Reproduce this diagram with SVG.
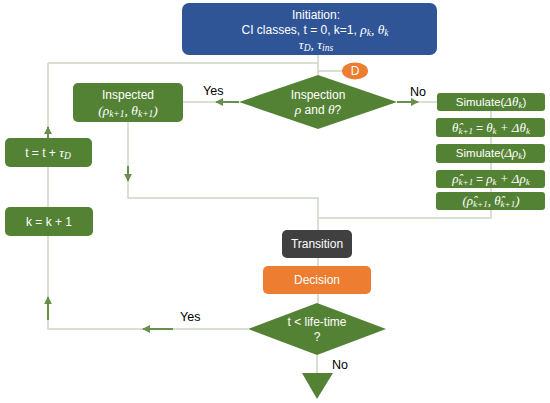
<svg xmlns="http://www.w3.org/2000/svg" width="550" height="403" viewBox="0 0 550 403">
<style>
.g{fill:#548235}
.t{font-family:"Liberation Sans",Arial,sans-serif;font-size:12px;fill:#fff;text-anchor:middle}
.l{font-family:"Liberation Sans",Arial,sans-serif;font-size:12.5px;fill:#000}
.m{font-family:"Liberation Serif","Times New Roman",serif;font-style:italic;font-size:13.5px}
.s{font-size:9.5px}
.sm{font-size:11.5px}
.sm .m{font-size:13px}
.sm .s{font-size:9px}
.c{stroke:#cdd6c2;stroke-width:1.5;fill:none}
.a{stroke:#6a8f4c;stroke-width:2;fill:none}
</style>
<defs>
<marker id="ah" viewBox="0 0 10 10" refX="9" refY="5" markerWidth="4" markerHeight="4" orient="auto"><path d="M0,0L10,5L0,10z" fill="#6a8f4c"/></marker>
</defs>
<g id="connectors">
<path class="c" d="M318,55V75M48,63H318M318,71H342"/>
<path class="c" d="M239,102H183M397,102H437"/>
<path class="c" d="M491,111V218H318"/>
<path class="c" d="M128,122V198H318V230M318,258V266M318,294V303"/>
<path class="c" d="M248,329H48V63"/>
<path class="c" d="M317,355V373"/>
<path class="a" d="M239,102H216" marker-end="url(#ah)"/>
<path class="a" d="M397,102H418" marker-end="url(#ah)"/>
<path class="a" d="M128,166V181" marker-end="url(#ah)"/>
<path class="a" d="M173,329H143" marker-end="url(#ah)"/>
<path class="a" d="M48,320V297" marker-end="url(#ah)"/>
<path class="a" d="M48,138V127" marker-end="url(#ah)"/>
<text class="l" x="203" y="95">Yes</text>
<text class="l" x="410" y="96">No</text>
<text class="l" x="180" y="321">Yes</text>
<text class="l" x="332" y="369">No</text>
</g>
<g id="init">
<rect x="182" y="3" width="255" height="52" rx="7" fill="#2f5597"/>
<text class="t" x="316" y="19">Initiation:</text>
<text class="t" x="315" y="34">CI classes, t = 0, k=1,   <tspan class="m">ρ<tspan class="s" dy="2">k</tspan><tspan dy="-2">, θ</tspan><tspan class="s" dy="2">k</tspan></tspan></text>
<text class="t" x="316" y="49"><tspan class="m">τ<tspan class="s" dy="2">D</tspan><tspan dy="-2">, τ</tspan><tspan class="s" dy="2">ins</tspan></tspan></text>
</g>
<g id="D">
<ellipse cx="355" cy="71" rx="13" ry="8.5" fill="#ed7d31"/>
<text class="t" x="355" y="75">D</text>
</g>
<g id="inspection">
<polygon class="g" points="239,102 318,75 397,102 318,129"/>
<text class="t" x="318" y="99">Inspection</text>
<text class="t" x="318" y="114"><tspan class="m">ρ</tspan> and <tspan class="m">θ</tspan>?</text>
</g>
<g id="inspected">
<rect class="g" x="73" y="83" width="110" height="39" rx="5"/>
<text class="t" x="128" y="99">Inspected</text>
<text class="t m" x="128" y="115">(ρ<tspan class="s" dy="2">k+1</tspan><tspan dy="-2">, θ</tspan><tspan class="s" dy="2">k+1</tspan><tspan dy="-2">)</tspan></text>
</g>
<g id="tupdate">
<rect class="g" x="5" y="138" width="87" height="29" rx="5"/>
<text class="t" x="48" y="157">t = t + <tspan class="m">τ<tspan class="s" dy="2">D</tspan></tspan></text>
</g>
<g id="kupdate">
<rect class="g" x="5" y="207" width="88" height="29" rx="5"/>
<text class="t" x="49" y="226">k = k + 1</text>
</g>
<g id="sim1">
<rect class="g" x="437" y="93" width="108" height="18" rx="3"/>
<text class="t sm" x="491" y="106">Simulate(<tspan class="m">Δθ<tspan class="s" dy="2">k</tspan></tspan><tspan dy="-2">)</tspan></text>
</g>
<g id="sim2">
<rect class="g" x="436" y="118" width="109" height="19" rx="3"/>
<text class="t sm" x="491" y="132"><tspan class="m">θ̂<tspan class="s" dy="2">k+1</tspan></tspan><tspan dy="-2"> = </tspan><tspan class="m">θ<tspan class="s" dy="2">k</tspan><tspan dy="-2"> + Δθ</tspan><tspan class="s" dy="2">k</tspan></tspan></text>
</g>
<g id="sim3">
<rect class="g" x="436" y="144" width="109" height="19" rx="3"/>
<text class="t sm" x="491" y="157">Simulate(<tspan class="m">Δρ<tspan class="s" dy="2">k</tspan></tspan><tspan dy="-2">)</tspan></text>
</g>
<g id="sim4">
<rect class="g" x="436" y="170" width="109" height="18" rx="3"/>
<text class="t sm" x="491" y="183"><tspan class="m">ρ̂<tspan class="s" dy="2">k+1</tspan></tspan><tspan dy="-2"> = </tspan><tspan class="m">ρ<tspan class="s" dy="2">k</tspan><tspan dy="-2"> + Δρ</tspan><tspan class="s" dy="2">k</tspan></tspan></text>
</g>
<g id="sim5">
<rect class="g" x="436" y="192" width="109" height="18" rx="3"/>
<text class="t sm" x="491" y="205"><tspan class="m">(ρ̂<tspan class="s" dy="2">k+1</tspan><tspan dy="-2">, θ̂</tspan><tspan class="s" dy="2">k+1</tspan><tspan dy="-2">)</tspan></tspan></text>
</g>
<g id="transition">
<rect x="282" y="230" width="70" height="28" rx="5" fill="#404040"/>
<text class="t" x="317" y="248">Transition</text>
</g>
<g id="decision">
<rect x="263" y="266" width="108" height="28" rx="5" fill="#ed7d31"/>
<text class="t" x="317" y="284">Decision</text>
</g>
<g id="lifetime">
<polygon class="g" points="248,329 317,303 386,329 317,355"/>
<text class="t" x="317" y="326">t &lt; life-time</text>
<text class="t" x="317" y="341">?</text>
</g>
<g id="end">
<polygon class="g" points="302,373 333,373 317,399"/>
</g>
</svg>
